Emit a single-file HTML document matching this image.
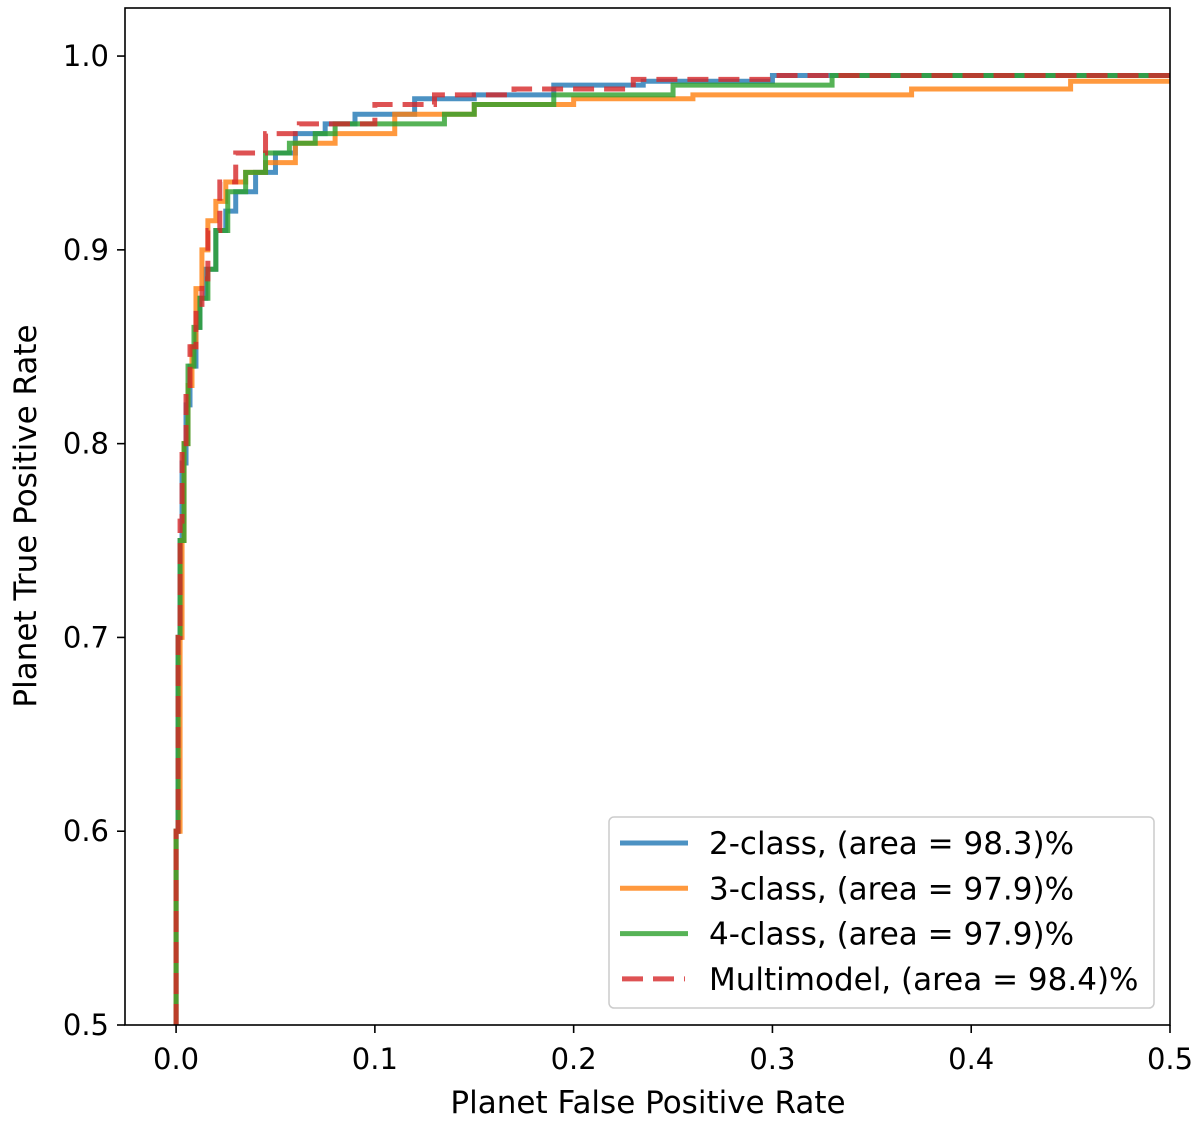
<!DOCTYPE html>
<html><head><meta charset="utf-8">
<style>
html,body{margin:0;padding:0;background:#fff;}
svg{display:block;font-family:"DejaVu Sans","Liberation Sans",sans-serif;}
</style></head>
<body>
<svg id="chart" width="1200" height="1123" viewBox="0 0 1200 1123">
  <g id="plot"></g>
  <g id="axes"></g>
  <text x="648" y="1113" font-size="31" text-anchor="middle">Planet False Positive Rate</text>
  <text transform="translate(36,516) rotate(-90)" font-size="31" text-anchor="middle">Planet True Positive Rate</text>
  <g id="legend"></g>
</svg>
<script>
// ---- data ----
const seriesNames = ["2-class, (area = 98.3)%","3-class, (area = 97.9)%","4-class, (area = 97.9)%","Multimodel, (area = 98.4)%"];
const seriesColors = ["#1f77b4","#ff7f0e","#2ca02c","#d62728"];
const fpr2 = [0,0.001,0.002,0.003,0.005,0.007,0.010,0.012,0.015,0.020,0.025,0.030,0.040,0.050,0.060,0.075,0.090,0.120,0.150,0.190,0.235,0.300,0.340,0.500];
const tpr2 = [0.5,0.6,0.7,0.75,0.79,0.82,0.84,0.86,0.875,0.89,0.91,0.92,0.93,0.94,0.95,0.96,0.965,0.97,0.978,0.98,0.985,0.987,0.99,0.99];
const fpr3 = [0,0.002,0.003,0.004,0.006,0.008,0.010,0.013,0.016,0.020,0.025,0.035,0.045,0.060,0.080,0.110,0.150,0.200,0.260,0.370,0.450,0.490,0.500];
const tpr3 = [0.5,0.6,0.7,0.75,0.8,0.83,0.85,0.88,0.9,0.915,0.925,0.935,0.94,0.945,0.955,0.96,0.97,0.975,0.978,0.98,0.983,0.987,0.987];
const fpr4 = [0,0.001,0.002,0.004,0.006,0.009,0.012,0.016,0.020,0.026,0.035,0.045,0.057,0.070,0.080,0.135,0.150,0.190,0.250,0.330,0.480,0.500];
const tpr4 = [0.5,0.6,0.7,0.75,0.8,0.84,0.86,0.875,0.89,0.91,0.93,0.94,0.95,0.955,0.96,0.965,0.97,0.975,0.98,0.985,0.99,0.99];
const fprM = [0,0.001,0.002,0.003,0.005,0.007,0.010,0.013,0.016,0.022,0.030,0.045,0.062,0.100,0.130,0.170,0.230,0.300,0.400,0.500];
const tprM = [0.5,0.6,0.7,0.76,0.8,0.83,0.85,0.87,0.885,0.91,0.935,0.95,0.96,0.965,0.975,0.98,0.983,0.988,0.99,0.99];
const xTicks = [0.0,0.1,0.2,0.3,0.4,0.5];
const yTicks = [0.5,0.6,0.7,0.8,0.9,1.0];

// ---- scales ----
const L=125,R=1170,T=8,B=1025;
const xMin=-0.0257,xMax=0.5,yMin=0.5,yMax=1.0248;
const sx=v=>L+(v-xMin)/(xMax-xMin)*(R-L);
const sy=v=>B-(v-yMin)/(yMax-yMin)*(B-T);
const NS="http://www.w3.org/2000/svg";
function mk(tag,attrs,parent){const e=document.createElementNS(NS,tag);for(const k in attrs)e.setAttribute(k,attrs[k]);parent.appendChild(e);return e;}

const plot=document.getElementById('plot');
const axes=document.getElementById('axes');
const data=[[fpr2,tpr2],[fpr3,tpr3],[fpr4,tpr4],[fprM,tprM]];
const cp=mk('clipPath',{id:'clip'},plot);mk('rect',{x:L,y:T,width:R-L,height:B-T},cp);
data.forEach((d,i)=>{
  const [xs,ys]=d;
  let p=`M${sx(xs[0])},${sy(ys[0])}`;
  for(let k=1;k<xs.length;k++){p+=` V${sy(ys[k])} H${sx(xs[k])}`;}
  const path=mk('path',{d:p,fill:'none',stroke:seriesColors[i],'stroke-width':5,'stroke-opacity':0.8,'clip-path':'url(#clip)'},plot);
  if(i===3)path.setAttribute('stroke-dasharray','21 10');
  
  
});

// frame
const frame=mk('rect',{x:L,y:T,width:R-L,height:B-T,fill:'none',stroke:'#000','stroke-width':1.6},axes);


xTicks.forEach(v=>{
  const x=sx(v);
  const t=mk('line',{x1:x,x2:x,y1:B,y2:B+8,stroke:'#000','stroke-width':1.6},axes);
  
  
  const l=mk('text',{x:x,y:B+44,'font-size':29,'text-anchor':'middle'},axes);
  l.textContent=v.toFixed(1);
  
  
});
yTicks.forEach(v=>{
  const y=sy(v);
  const t=mk('line',{x1:L-8,x2:L,y1:y,y2:y,stroke:'#000','stroke-width':1.6},axes);
  
  
  const l=mk('text',{x:L-16,y:y+10,'font-size':29,'text-anchor':'end'},axes);
  l.textContent=v.toFixed(1);
  
  
});

// legend
const lg=document.getElementById('legend');
const box=mk('rect',{x:609,y:817,width:545,height:191,rx:5,fill:'#fff','fill-opacity':0.8,stroke:'#ccc','stroke-width':1.5},lg);


seriesNames.forEach((n,i)=>{
  const y=843+i*45.3;
  const ln=mk('line',{x1:620,x2:688,y1:y,y2:y,stroke:seriesColors[i],'stroke-width':5,'stroke-opacity':0.8},lg);
  if(i===3){ln.setAttribute('stroke-dasharray','21 10');ln.setAttribute('x1','622');ln.setAttribute('x2','685');}
  
  
  const tx=mk('text',{x:709,y:y+11,'font-size':31},lg);
  tx.textContent=n;
  
  
});
</script>
</body></html>
